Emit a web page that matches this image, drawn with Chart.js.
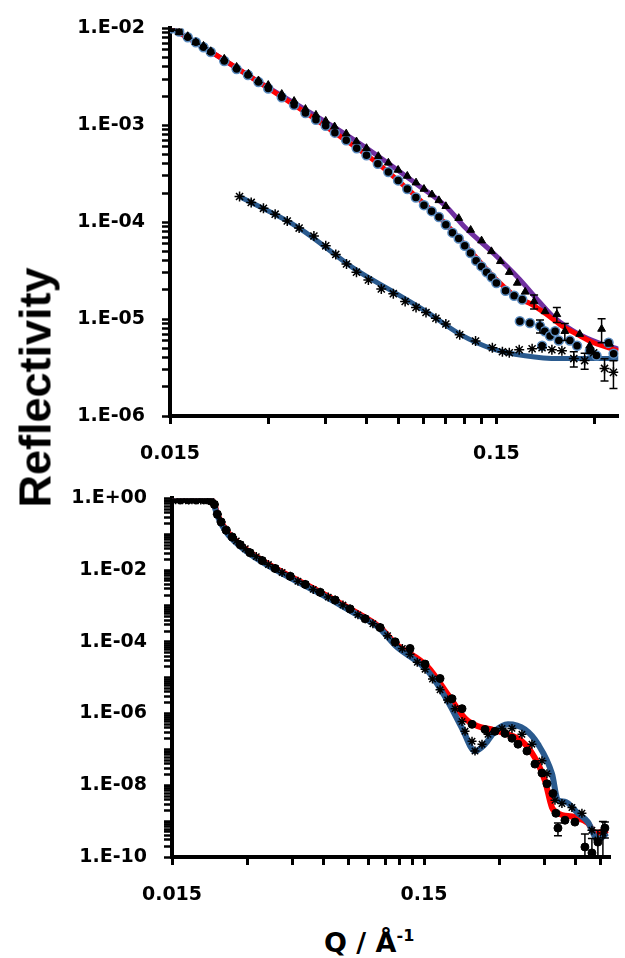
<!DOCTYPE html>
<html>
<head>
<meta charset="utf-8">
<script src="https://cdn.jsdelivr.net/npm/chart.js@4.4.1/dist/chart.umd.min.js"></script>
<style>
  body { margin: 0; background: #fff; }
  #wrap { position: relative; width: 625px; height: 958px; overflow: hidden; }
  .box { position: absolute; left: 0; }
  .box canvas { display: block; }
  #ytitle { position: absolute; width: 300px; left: -118px; top: 365px; height: 45px; line-height: 45px;
            text-align: center; font: bold 45px "Liberation Sans", Arial, sans-serif; color: #000;
            transform: rotate(-90deg); white-space: nowrap; }
  #xtitle { position: absolute; left: 324px; top: 929px; font: bold 27px "DejaVu Sans", sans-serif;
            line-height: 27px; color: #000; white-space: nowrap; }
  #xtitle span { font-size: 16px; position: relative; top: -11px; }
</style>
</head>
<body>
<div id="wrap">
  <div class="box" style="top:0"><canvas id="topChart" width="625" height="470"></canvas></div>
  <div class="box" style="top:470px"><canvas id="bottomChart" width="625" height="450"></canvas></div>
  <div id="ytitle">Reflectivity</div>
  <div id="xtitle">Q / Å<span>-1</span></div>
</div>
<script>
// ---- top panel data ----
const topCircleQ = [0.0152, 0.016, 0.017, 0.018, 0.019, 0.020, 0.022, 0.024, 0.026, 0.028, 0.030, 0.033, 0.036, 0.039,
  0.042, 0.045, 0.048, 0.052, 0.056, 0.060, 0.065, 0.070, 0.075, 0.080, 0.085, 0.090, 0.095, 0.100, 0.105, 0.110,
  0.115, 0.120, 0.125, 0.130, 0.135, 0.140, 0.145, 0.150, 0.160, 0.170, 0.180,
  0.177, 0.190, 0.204, 0.207, 0.211, 0.219, 0.227, 0.233, 0.252, 0.265, 0.290, 0.304, 0.331, 0.343];
const topCircleR = [1.0e-2, 9.3e-3, 8.1e-3, 7.2e-3, 6.4e-3, 5.7e-3, 4.6e-3, 3.8e-3, 3.3e-3, 2.8e-3, 2.4e-3, 1.95e-3, 1.62e-3, 1.34e-3,
  1.14e-3, 9.9e-4, 8.4e-4, 7.0e-4, 5.8e-4, 4.9e-4, 4.0e-4, 3.3e-4, 2.7e-4, 2.2e-4, 1.8e-4, 1.5e-4, 1.3e-4, 1.13e-4, 9.4e-5, 7.8e-5,
  6.8e-5, 5.7e-5, 4.8e-5, 4.0e-5, 3.5e-5, 3.05e-5, 2.7e-5, 2.36e-5, 1.96e-5, 1.74e-5, 1.59e-5,
  9.5e-6, 9.1e-6, 8.5e-6, 5.3e-6, 7.5e-6, 6.7e-6, 7.5e-6, 6.0e-6, 6.0e-6, 5.3e-6, 4.7e-6, 4.2e-6, 5.7e-6, 4.4e-6];

const topTriQ = [0.0152, 0.016, 0.017, 0.018, 0.019, 0.020, 0.022, 0.024, 0.0261, 0.028, 0.030, 0.033, 0.036, 0.039, 0.042,
  0.045, 0.0479, 0.052, 0.0559, 0.060, 0.0652, 0.070, 0.075, 0.080, 0.0851, 0.090, 0.0952, 0.100, 0.105, 0.115, 0.1251,
  0.1351, 0.1448, 0.1543, 0.1643, 0.1738, 0.1838, 0.1957, 0.2114, 0.2298, 0.2431, 0.2700, 0.2897, 0.3151, 0.3331];
const topTriR = [1.0e-2, 9.1e-3, 8.3e-3, 7.2e-3, 6.6e-3, 5.8e-3, 4.85e-3, 4.0e-3, 3.4e-3, 2.9e-3, 2.6e-3, 2.1e-3, 1.78e-3, 1.47e-3, 1.28e-3,
  1.11e-3, 9.7e-4, 8.2e-4, 6.8e-4, 5.8e-4, 4.8e-4, 4.1e-4, 3.46e-4, 3.0e-4, 2.56e-4, 2.2e-4, 1.93e-4, 1.68e-4, 1.46e-4, 1.10e-4, 8.3e-5,
  6.45e-5, 5.0e-5, 3.95e-5, 3.05e-5, 2.36e-5, 1.91e-5, 1.52e-5, 1.20e-5, 1.12e-5, 7.5e-6, 7.0e-6, 5.3e-6, 7.9e-6, 5.55e-6];

const topStarQ = [0.0245, 0.0266, 0.0290, 0.0315, 0.0343, 0.0373, 0.0414, 0.0450, 0.0483, 0.0521, 0.0559, 0.0608, 0.0666,
  0.0725, 0.0788, 0.0851, 0.0913, 0.0979, 0.1050, 0.1158, 0.1295, 0.1458, 0.1565, 0.1643, 0.1762, 0.1930, 0.2070,
  0.2219, 0.2381, 0.2590, 0.2796, 0.2979, 0.3217, 0.3426];
const topStarR = [1.84e-4, 1.60e-4, 1.39e-4, 1.21e-4, 1.03e-4, 8.7e-5, 7.2e-5, 5.7e-5, 4.65e-5, 3.7e-5, 3.05e-5, 2.53e-5, 2.05e-5,
  1.83e-5, 1.52e-5, 1.32e-5, 1.17e-5, 1.02e-5, 8.9e-6, 6.9e-6, 5.95e-6, 5.06e-6, 4.6e-6, 4.5e-6, 4.83e-6, 4.94e-6, 5.06e-6,
  4.83e-6, 4.71e-6, 3.91e-6, 3.73e-6, 4.5e-6, 3.10e-6, 2.82e-6];

const topBlueFitQ = [0.0245, 0.0373, 0.0559, 0.0725, 0.0913, 0.1158, 0.1458, 0.1838, 0.2331, 0.2937, 0.355];
const topBlueFitR = [1.84e-4, 8.7e-5, 3.2e-5, 1.91e-5, 1.20e-5, 7.0e-6, 4.94e-6, 4.19e-6, 3.91e-6, 3.91e-6, 3.91e-6];
const topPurpleFitQ = [0.0152, 0.0190, 0.0261, 0.0360, 0.0479, 0.0652, 0.0851, 0.1050, 0.1208, 0.1458, 0.1762, 0.2026,
  0.2267, 0.2681, 0.3084, 0.355];
const topPurpleFitR = [1.0e-2, 6.4e-3, 3.26e-3, 1.70e-3, 9.5e-4, 4.8e-4, 2.5e-4, 1.46e-4, 8.7e-5, 4.9e-5, 2.6e-5, 1.52e-5,
  1.02e-5, 7.0e-6, 5.7e-6, 4.9e-6];
const topRedFitQ = [0.0152, 0.0190, 0.0261, 0.0360, 0.0479, 0.0652, 0.0851, 0.1050, 0.1286, 0.1510, 0.1738, 0.1903,
  0.2114, 0.2381, 0.2645, 0.2979, 0.355];
const topRedFitR = [1.0e-2, 6.4e-3, 3.26e-3, 1.62e-3, 8.4e-4, 4.0e-4, 1.84e-4, 9.6e-5, 4.5e-5, 2.5e-5, 1.66e-5, 1.45e-5,
  1.15e-5, 8.5e-6, 7.0e-6, 5.7e-6, 4.7e-6];

const topErrQ = [0.1957, 0.2298, 0.204, 0.2431, 0.3151, 0.2590, 0.2796, 0.3217, 0.3426];
const topErrR = [1.52e-5, 1.12e-5, 8.5e-6, 7.5e-6, 7.9e-6, 3.91e-6, 3.73e-6, 3.10e-6, 2.82e-6];
const topErrD = [2.5e-6, 2.0e-6, 1.3e-6, 1.5e-6, 2.2e-6, 0.7e-6, 0.7e-6, 0.8e-6, 0.9e-6];

// ---- bottom panel data ----
const botStarQ = [0.0150, 0.0155, 0.0160, 0.0165, 0.0170, 0.0175, 0.0180, 0.0185, 0.0190, 0.0195, 0.0200, 0.0205, 0.0210,
  0.0215, 0.0221, 0.0227, 0.0235, 0.0246, 0.0260, 0.0270, 0.0280, 0.0293, 0.0306, 0.0324, 0.0342, 0.0362, 0.0385, 0.0410,
  0.0442, 0.0474, 0.0507, 0.0545, 0.0581, 0.0625, 0.0666, 0.0715, 0.0763, 0.0820, 0.0876, 0.0940, 0.1004, 0.1075, 0.1152,
  0.1230, 0.1320, 0.1410, 0.1514, 0.1620, 0.1736, 0.1860, 0.1991, 0.2122, 0.2181, 0.2325, 0.2389, 0.2547, 0.2690, 0.3057,
  0.3349, 0.3668, 0.4019, 0.4404, 0.4610, 0.4960, 0.5286, 0.5791, 0.6345, 0.6951, 0.7342, 0.7685];
const botStarR = [0.91, 0.91, 0.92, 0.91, 0.92, 0.90, 0.91, 0.92, 0.91, 0.90, 0.92, 0.91, 0.90,
  0.88, 0.68, 0.36, 0.22, 0.13, 0.084, 0.0655, 0.051, 0.0395, 0.0306, 0.0238, 0.0184, 0.0143, 0.0111, 8.6e-3,
  6.7e-3, 4.9e-3, 4.0e-3, 2.9e-3, 2.4e-3, 1.77e-3, 1.46e-3, 1.06e-3, 8.3e-4, 5.65e-4, 4.4e-4, 3.2e-4, 2.5e-4, 1.49e-4, 9.6e-5,
  6.55e-5, 4.5e-5, 2.7e-5, 1.73e-5, 9.2e-6, 4.6e-6, 2.4e-6, 1.37e-6, 6.0e-7, 3.2e-7, 1.69e-7, 9.0e-8, 1.40e-7, 2.64e-7, 3.86e-7,
  3.86e-7, 2.64e-7, 1.40e-7, 4.8e-8, 2.1e-8, 3.8e-9, 3.1e-9, 2.4e-9, 1.66e-9, 5.6e-10, 3.0e-10, 4.7e-10];

const botCircleQ = [0.0162, 0.0174, 0.0187, 0.0201, 0.0213, 0.0221, 0.0227, 0.0235, 0.0246, 0.0260, 0.0280, 0.0306, 0.0342,
  0.0385, 0.0442, 0.0507, 0.0581, 0.0666, 0.0763, 0.0876, 0.1004, 0.1152, 0.1320, 0.1514, 0.1736, 0.1937, 0.2122, 0.2325,
  0.2618, 0.2867, 0.3141, 0.3349, 0.3538, 0.3840, 0.4131, 0.4404, 0.4610, 0.4870, 0.5004, 0.5097, 0.5435, 0.5952, 0.6521,
  0.6951, 0.7342, 0.7826];
const botCircleR = [0.90, 0.91, 0.90, 0.91, 0.85, 0.68, 0.36, 0.22, 0.13, 0.084, 0.051, 0.0306, 0.0184,
  0.0111, 6.7e-3, 4.0e-3, 2.4e-3, 1.46e-3, 8.3e-4, 4.4e-4, 2.5e-4, 1.0e-4, 6.55e-5, 2.4e-5, 9.5e-6, 2.6e-6, 1.37e-6, 5.0e-7,
  3.6e-7, 3.2e-7, 2.8e-7, 2.05e-7, 1.40e-7, 9.0e-8, 3.9e-8, 2.2e-8, 1.1e-8, 5.9e-9, 1.66e-9, 6.4e-10, 1.06e-9, 9.4e-10, 1.9e-10,
  1.3e-10, 2.6e-10, 6.4e-10];

const botRedFitQ = [0.0150, 0.0215, 0.0221, 0.0227, 0.0246, 0.0280, 0.0342, 0.0442, 0.0581, 0.0763, 0.1004, 0.1152, 0.1556,
  0.1867, 0.2181, 0.2455, 0.2790, 0.3141, 0.3668, 0.4131, 0.4526, 0.4826, 0.5097, 0.5952, 0.6702, 0.7145, 0.8043];
const botRedFitR = [0.95, 0.92, 0.68, 0.36, 0.13, 0.051, 0.0184, 6.7e-3, 2.43e-3, 8.3e-4, 2.5e-4, 9.0e-5, 1.96e-5,
  3.33e-6, 7.3e-7, 4.4e-7, 3.6e-7, 2.8e-7, 1.69e-7, 5.8e-8, 1.34e-8, 2.4e-9, 1.66e-9, 1.29e-9, 8.8e-10, 4.7e-10, 5.6e-10];
const botBlueFitQ = [0.0150, 0.0215, 0.0221, 0.0227, 0.0246, 0.0280, 0.0342, 0.0442, 0.0581, 0.0763, 0.1004, 0.1152, 0.1556,
  0.1867, 0.2122, 0.2389, 0.2618, 0.2867, 0.3228, 0.3771, 0.4247, 0.4826, 0.5097, 0.5435, 0.6116, 0.6702, 0.7342, 0.7971];
const botBlueFitR = [0.95, 0.92, 0.62, 0.33, 0.115, 0.046, 0.0168, 6.1e-3, 2.2e-3, 7.4e-4, 2.3e-4, 8.0e-5, 1.5e-5,
  2.14e-6, 3.9e-7, 9.0e-8, 1.40e-7, 3.2e-7, 5.0e-7, 3.6e-7, 1.40e-7, 2.1e-8, 3.8e-9, 3.5e-9, 1.66e-9, 9.4e-10, 3.0e-10, 4.7e-10];

const botErrQ = [0.5097, 0.6521, 0.6951, 0.7342, 0.7826, 0.7685];
const botErrR = [6.4e-10, 1.9e-10, 1.3e-10, 2.6e-10, 6.4e-10, 4.7e-10];
const botErrD = [2.5e-10, 2.5e-10, 2.0e-10, 3.0e-10, 3.0e-10, 5.0e-10];

// ---- axes ----
const topYDecades = [1e-6, 1e-5, 1e-4, 1e-3, 1e-2];
const botYDecades = [1e-10, 1e-9, 1e-8, 1e-7, 1e-6, 1e-5, 1e-4, 1e-3, 1e-2, 1e-1, 1];
const minorSteps = [2, 3, 4, 5, 6, 7, 8, 9];
const topXTicks = [0.015, 0.03, 0.045, 0.06, 0.075, 0.09, 0.105, 0.12, 0.135, 0.15, 0.3];
const botXTicks = [0.015, 0.03, 0.045, 0.06, 0.075, 0.09, 0.105, 0.12, 0.135, 0.15, 0.3, 0.45, 0.6, 0.75];
const xLabelled = [0.015, 0.15];

const pts = (qs, rs) => qs.map((q, i) => ({ x: q, y: rs[i] }));

function logTicks(decades) {
  const out = [];
  decades.forEach((d, i) => {
    out.push(d);
    if (i < decades.length - 1) minorSteps.forEach(m => out.push(d * m));
  });
  return out;
}

function yLabel(v, every) {
  const l = Math.log10(v);
  const e = Math.round(l);
  if (Math.abs(l - e) > 1e-6 || e % every !== 0) return '';
  return '1.E' + (e < 0 ? '-' : '+') + String(Math.abs(e)).padStart(2, '0');
}

const tickFont = { family: 'DejaVu Sans', weight: 'bold', size: 19 };

function axes(o) {
  return {
    x: {
      type: 'logarithmic', min: o.xMin, max: o.xMax,
      afterBuildTicks: s => { s.ticks = o.xTicks.map(v => ({ value: v })); },
      afterFit: s => { s.height = o.xHeight; },
      ticks: { autoSkip: false, maxRotation: 0, padding: 19, color: '#000', font: tickFont,
        callback: v => xLabelled.includes(v) ? String(v) : '' },
      grid: { drawOnChartArea: false, tickLength: 8, tickWidth: 3, tickColor: '#000' },
      border: { color: '#000', width: 4 }
    },
    y: {
      type: 'logarithmic', min: o.yMin, max: o.yMax,
      afterBuildTicks: s => { s.ticks = logTicks(o.yDecades).map(v => ({ value: v })); },
      afterFit: s => { s.width = o.yWidth; },
      ticks: { autoSkip: false, padding: 17, color: '#000', font: tickFont,
        callback: v => yLabel(v, o.every) },
      grid: { drawOnChartArea: false, tickLength: 8, tickWidth: 2.5, tickColor: '#000' },
      border: { color: '#000', width: 4 }
    }
  };
}

// simple vertical error bars drawn through the chart scales
const errorBars = {
  id: 'errorBars',
  afterDatasetsDraw(chart, args, opts) {
    if (!opts || !opts.q) return;
    const { ctx, chartArea, scales } = chart;
    ctx.save();
    ctx.beginPath();
    ctx.rect(chartArea.left, chartArea.top, chartArea.width, chartArea.height);
    ctx.clip();
    ctx.strokeStyle = '#000';
    ctx.lineWidth = 1.5;
    opts.q.forEach((q, i) => {
      const x = scales.x.getPixelForValue(q);
      const r = opts.r[i], d = opts.d[i];
      const top = scales.y.getPixelForValue(r + d);
      const bot = r - d > 0 ? scales.y.getPixelForValue(r - d) : chartArea.bottom + 5;
      ctx.beginPath();
      ctx.moveTo(x, top); ctx.lineTo(x, bot);
      ctx.moveTo(x - 4, top); ctx.lineTo(x + 4, top);
      ctx.moveTo(x - 4, bot); ctx.lineTo(x + 4, bot);
      ctx.stroke();
    });
    ctx.restore();
  }
};

function fitLine(data, color, width) {
  return { data, showLine: true, borderColor: color, borderWidth: width, pointRadius: 0,
    cubicInterpolationMode: 'monotone', order: 1 };
}

function markers(data, style, radius, fill, edge, edgeWidth) {
  return { data, showLine: false, pointStyle: style, pointRadius: radius, pointBackgroundColor: fill,
    pointBorderColor: edge, pointBorderWidth: edgeWidth, order: 0 };
}

Chart.defaults.font.family = 'DejaVu Sans';

new Chart(document.getElementById('topChart'), {
  type: 'scatter',
  data: {
    datasets: [
      fitLine(pts(topBlueFitQ, topBlueFitR), '#2A5A8E', 5),
      fitLine(pts(topRedFitQ, topRedFitR), '#FF0000', 5),
      fitLine(pts(topPurpleFitQ, topPurpleFitR), '#7030A0', 5),
      markers(pts(topStarQ, topStarR), 'star', 5, '#000', '#000', 1.5),
      markers(pts(topTriQ, topTriR), 'triangle', 4.5, '#000', '#000', 1),
      markers(pts(topCircleQ, topCircleR), 'circle', 4.5, '#000', '#5B8CC0', 1.5)
    ]
  },
  options: {
    responsive: false, animation: false,
    layout: { padding: { left: 0, right: 3, top: 22, bottom: 0 } },
    plugins: { legend: { display: false }, tooltip: { enabled: false },
      errorBars: { q: topErrQ, r: topErrR, d: topErrD } },
    scales: axes({ xMin: 0.015, xMax: 0.355, xTicks: topXTicks, xHeight: 54,
      yMin: 1e-6, yMax: 1e-2, yDecades: topYDecades, yWidth: 170, every: 1 })
  },
  plugins: [errorBars]
});

new Chart(document.getElementById('bottomChart'), {
  type: 'scatter',
  data: {
    datasets: [
      fitLine(pts(botBlueFitQ, botBlueFitR), '#2A5A8E', 6),
      fitLine(pts(botRedFitQ, botRedFitR), '#FF0000', 6),
      markers(pts(botStarQ, botStarR), 'star', 4.5, '#000', '#000', 1.5),
      markers(pts(botCircleQ, botCircleR), 'circle', 4, '#000', '#000', 1)
    ]
  },
  options: {
    responsive: false, animation: false,
    layout: { padding: { left: 0, right: 15, top: 24, bottom: 0 } },
    plugins: { legend: { display: false }, tooltip: { enabled: false },
      errorBars: { q: botErrQ, r: botErrR, d: botErrD } },
    scales: axes({ xMin: 0.015, xMax: 0.82, xTicks: botXTicks, xHeight: 63,
      yMin: 1e-10, yMax: 1, yDecades: botYDecades, yWidth: 172, every: 2 })
  },
  plugins: [errorBars]
});
</script>
</body>
</html>
